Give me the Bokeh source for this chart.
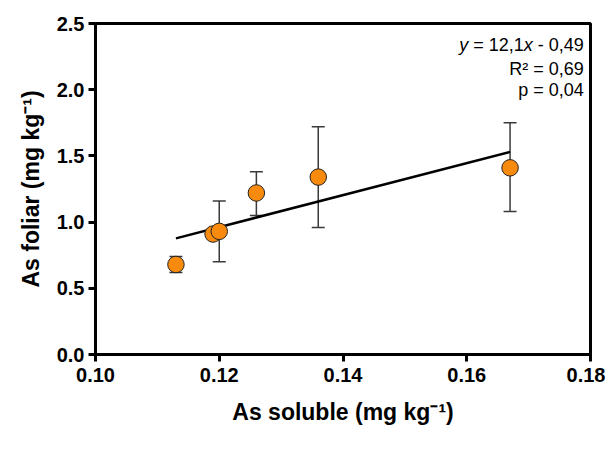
from bokeh.plotting import figure
from bokeh.models import ColumnDataSource, Whisker, TeeHead, Label, FixedTicker, NumeralTickFormatter, Range1d
from bokeh.embed import file_html
from bokeh.resources import INLINE

# data
as_soluble = [0.113, 0.119, 0.120, 0.126, 0.136, 0.167]
as_foliar = [0.68, 0.91, 0.93, 1.22, 1.34, 1.41]
err_x = [0.113, 0.120, 0.126, 0.136, 0.167]
err_low = [0.62, 0.70, 1.05, 0.96, 1.08]
err_high = [0.74, 1.16, 1.38, 1.72, 1.75]
slope = 12.1
intercept = -0.49
x_ticks = [0.10, 0.12, 0.14, 0.16, 0.18]
y_ticks = [0.0, 0.5, 1.0, 1.5, 2.0, 2.5]

FONT = "Liberation Sans"
NB = "\u00a0"

p = figure(width=605, height=442, output_backend="svg", toolbar_location=None,
           x_range=Range1d(0.10, 0.18), y_range=Range1d(0.0, 2.5),
           min_border_left=95, min_border_right=15, min_border_top=23, min_border_bottom=88)
p.grid.visible = False
p.outline_line_color = "black"
p.outline_line_width = 3

for ax in (p.xaxis[0], p.yaxis[0]):
    ax.axis_line_width = 3
    ax.major_tick_line_width = 3
    ax.major_tick_out = 7
    ax.major_tick_in = 0
    ax.minor_tick_line_color = None
    ax.major_label_text_font = FONT
    ax.major_label_text_font_style = "bold"
    ax.major_label_text_font_size = "20px"
    ax.major_label_text_color = "black"
    ax.axis_label_text_font = FONT
    ax.axis_label_text_font_style = "bold"
    ax.axis_label_text_font_size = "23px"
    ax.axis_label_text_color = "black"

p.xaxis.ticker = FixedTicker(ticks=x_ticks)
p.yaxis.ticker = FixedTicker(ticks=y_ticks)
p.xaxis.formatter = NumeralTickFormatter(format="0.00")
p.yaxis.formatter = NumeralTickFormatter(format="0.0")
p.xaxis.axis_label = "As soluble (mg kg\u207b\u00b9)"
p.yaxis.axis_label = "As foliar (mg kg\u207b\u00b9)"
p.xaxis.axis_label_standoff = 14
p.yaxis.axis_label_standoff = 10
p.xaxis.major_label_standoff = 6
p.yaxis.major_label_standoff = 4

# regression line
lx = [min(as_soluble), max(as_soluble)]
ly = [slope * v + intercept for v in lx]
p.line(lx, ly, line_color="black", line_width=2.5)

# error bars
esrc = ColumnDataSource(dict(x=err_x, lo=err_low, hi=err_high))
w = Whisker(source=esrc, base="x", lower="lo", upper="hi", line_color="#3a3a3a", line_width=1.5,
            upper_head=TeeHead(size=13, line_color="#3a3a3a", line_width=1.5),
            lower_head=TeeHead(size=13, line_color="#3a3a3a", line_width=1.5))
p.add_layout(w)

p.scatter(as_soluble, as_foliar, size=16.5, fill_color="#F88A0E", line_color="#222222", line_width=1)

# annotation (data coordinates near top-right corner)
fs = "18px"
ax_right = 0.1789
parts = [("y", "italic", 9.0), (NB + "=" + NB + "12,1", "normal", 55.5),
         ("x", "italic", 9.0), (NB + "-" + NB + "0,49", "normal", 51.0)]
total = sum(pw for _, _, pw in parts)
off = -total
for txt, st, pw in parts:
    p.add_layout(Label(x=ax_right, y=2.334, x_offset=off, text=txt,
                       text_font=FONT, text_font_size=fs, text_font_style=st, text_color="black",
                       text_baseline="middle", text_align="left"))
    off += pw
p.add_layout(Label(x=ax_right, y=2.16, text="R\u00b2 = 0,69", text_color="black",
                   text_font=FONT, text_font_size=fs, text_baseline="middle", text_align="right"))
p.add_layout(Label(x=ax_right, y=1.994, text="p = 0,04", text_color="black",
                   text_font=FONT, text_font_size=fs, text_baseline="middle", text_align="right"))

open("out.html", "w").write(file_html(p, INLINE))
